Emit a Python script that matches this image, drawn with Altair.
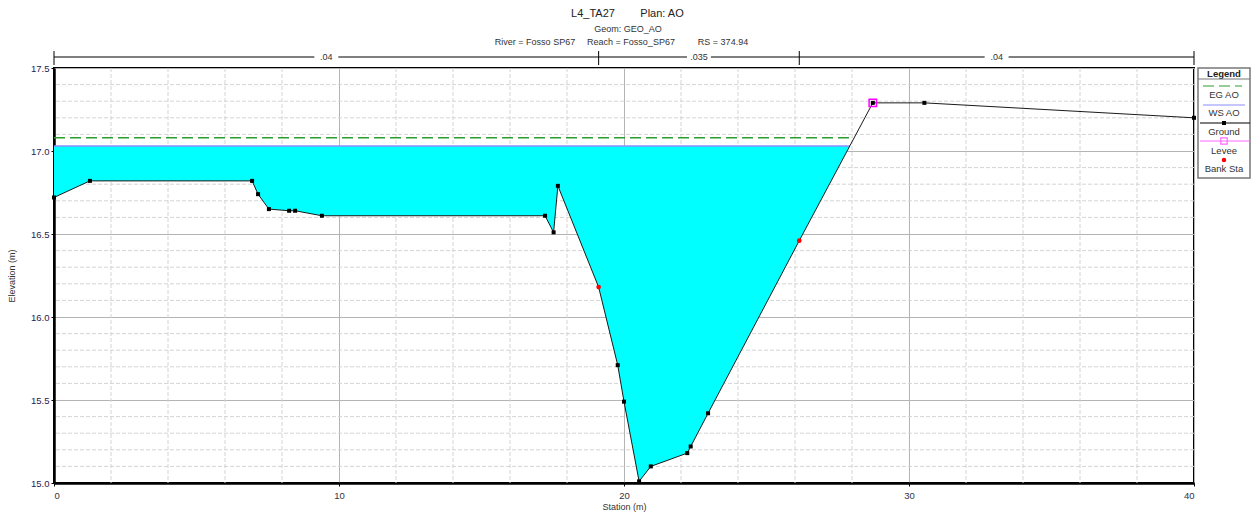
import altair as alt
import pandas as pd
import numpy as np

# ---------------- data ----------------
ground_x = [0.0, 1.26, 6.95, 7.16, 7.54, 8.25, 8.46, 9.40, 17.23, 17.53, 17.68, 19.11,
            19.78, 20.00, 20.53, 20.94, 22.22, 22.34, 22.95, 26.15, 28.73, 30.54, 40.0]
ground_y = [16.72, 16.82, 16.82, 16.74, 16.65, 16.64, 16.64, 16.61, 16.61, 16.51, 16.79, 16.18,
            15.71, 15.49, 15.01, 15.10, 15.18, 15.22, 15.42, 16.46, 17.29, 17.29, 17.20]
ws_elev = 17.03
eg_elev = 17.08
bank_x = [19.11, 26.15]
bank_y = [16.18, 16.46]
levee_x = [28.73]
levee_y = [17.29]
n_breaks = [0.0, 19.11, 26.15, 40.0]
n_values = [".04", ".035", ".04"]
x_ticks = [0, 10, 20, 30, 40]
y_ticks = [15.0, 15.5, 16.0, 16.5, 17.0, 17.5]
legend_items = ["EG AO", "WS AO", "Ground", "Levee", "Bank Sta"]

title1 = ["L4_TA27", "Plan: AO"]
title2 = "Geom: GEO_AO"
title3 = ["River = Fosso SP67", "Reach = Fosso_SP67", "RS = 374.94"]

FONT = "Liberation Sans"
W, H = 1140, 415

# ---------------- derived tables ----------------
def right_crossing(level):
    xc = ground_x[-1]
    for i in range(len(ground_x) - 1):
        if ground_y[i] < level <= ground_y[i + 1]:
            xc = ground_x[i] + (level - ground_y[i]) * (ground_x[i + 1] - ground_x[i]) / (ground_y[i + 1] - ground_y[i])
    return xc

ws_end = right_crossing(ws_elev)
eg_end = right_crossing(eg_elev)

ground = pd.DataFrame({"x": ground_x, "y": ground_y})
markers = ground[~ground["x"].isin(set(bank_x))]

water = ground[ground["x"] < ws_end].copy()
water = pd.concat([water, pd.DataFrame({"x": [ws_end], "y": [ws_elev]})], ignore_index=True)
water["ws"] = ws_elev

ws_line = pd.DataFrame({"x": [0.0], "x2": [ws_end], "y": [ws_elev]})
eg_line = pd.DataFrame({"x": [0.0], "x2": [eg_end], "y": [eg_elev]})
banks = pd.DataFrame({"x": bank_x, "y": bank_y})
levees = pd.DataFrame({"x": levee_x, "y": levee_y})

minor_vx = pd.DataFrame({"x": [float(v) for v in np.arange(2, 40, 2) if v % 10 != 0]})
minor_hy = pd.DataFrame({"y": [round(float(v), 2) for v in np.arange(15.1, 17.5, 0.1)
                               if abs(v * 2 - round(v * 2)) > 1e-6]})

gap = 0.42
seg_rows, lab_rows = [], []
for i, lab in enumerate(n_values):
    a, b = n_breaks[i], n_breaks[i + 1]
    m = (a + b) / 2
    seg_rows.append({"x": a, "x2": m - gap})
    seg_rows.append({"x": m + gap, "x2": b})
    lab_rows.append({"x": m, "t": lab})
nseg = pd.DataFrame(seg_rows)
nlab = pd.DataFrame(lab_rows)
nbrk = pd.DataFrame({"x": n_breaks})

XS = alt.Scale(domain=[0, 40], nice=False, zero=False)
YS = alt.Scale(domain=[15, 17.5], nice=False, zero=False)

x_axis = alt.Axis(values=x_ticks, title="Station (m)", grid=True, gridColor="#b4b4b4", gridWidth=1,
                  domainColor="black", domainWidth=2.5, tickColor="black", tickSize=3,
                  labelFont=FONT, labelFontSize=9.5, labelColor="#333340", labelPadding=4,
                  titleFont=FONT, titleFontSize=9, titleFontWeight="normal", titleColor="#333",
                  titleY=23, titleBaseline="middle")
y_axis = alt.Axis(values=y_ticks, format=".1f", title="Elevation (m)", grid=True, gridColor="#b4b4b4",
                  gridWidth=1, domainColor="black", domainWidth=2.5, tickColor="black", tickSize=3,
                  labelFont=FONT, labelFontSize=9.5, labelColor="#2a2050", labelPadding=2,
                  titleFont=FONT, titleFontSize=9, titleFontWeight="normal", titleColor="#333",
                  titleX=-38)


def X(f="x"):
    return alt.X(f, type="quantitative", scale=XS, axis=x_axis)


def Y(f="y"):
    return alt.Y(f, type="quantitative", scale=YS, axis=y_axis)


# ---------------- layers ----------------
grid_v = alt.Chart(minor_vx).mark_rule(color="#d4d4d4", strokeDash=[4, 2], strokeWidth=1).encode(x=X("x"))
grid_h = alt.Chart(minor_hy).mark_rule(color="#d4d4d4", strokeDash=[4, 2], strokeWidth=1).encode(y=Y("y"))

area = alt.Chart(water).mark_area(color="#00ffff", opacity=1, interpolate="linear").encode(
    x=X("x"), y=Y("ws"), y2="y")

ws = alt.Chart(ws_line).mark_rule(color="#8c8cff", strokeWidth=1.5).encode(x=X("x"), x2="x2", y=Y("y"))
eg = alt.Chart(eg_line).mark_rule(color="#2a9d2a", strokeWidth=1.5, strokeDash=[11, 5]).encode(
    x=X("x"), x2="x2", y=Y("y"))

gline = alt.Chart(ground).mark_line(color="#1a1a1a", strokeWidth=1).encode(x=X("x"), y=Y("y"))
gpts = alt.Chart(markers).mark_point(shape="square", filled=True, color="black", size=16, opacity=1).encode(
    x=X("x"), y=Y("y"))
lev = alt.Chart(levees).mark_point(shape="square", filled=False, color="#ff00ff", size=55, strokeWidth=1.5,
                                   opacity=1).encode(x=X("x"), y=Y("y"))
bnk = alt.Chart(banks).mark_point(shape="circle", filled=True, color="#ff0000", size=22, opacity=1).encode(
    x=X("x"), y=Y("y"))

# n-value bar above the plot
nbar = alt.Chart(nseg).mark_rule(color="black", strokeWidth=1).encode(x=X("x"), x2="x2", y=alt.value(-11))
nticks = alt.Chart(nbrk).mark_rule(color="black", strokeWidth=1).encode(
    x=X("x"), y=alt.value(-17), y2=alt.value(-3))
ntext = alt.Chart(nlab).mark_text(font=FONT, fontSize=9, color="#333", baseline="middle").encode(
    x=X("x"), y=alt.value(-11), text="t:N")

# titles
tdf1 = pd.DataFrame({"t": title1, "px": [539, 608]})
tdf3 = pd.DataFrame({"t": title3, "px": [481, 577, 669]})
t1 = alt.Chart(tdf1).mark_text(font=FONT, fontSize=11, color="#222", baseline="middle").encode(
    x=alt.X("px:Q", scale=None, axis=None), y=alt.value(-54), text="t:N")
t2 = alt.Chart(pd.DataFrame({"t": [title2]})).mark_text(font=FONT, fontSize=9, color="#333",
                                                        baseline="middle").encode(
    x=alt.value(574), y=alt.value(-39), text="t:N")
t3 = alt.Chart(tdf3).mark_text(font=FONT, fontSize=9, color="#333", baseline="middle").encode(
    x=alt.X("px:Q", scale=None, axis=None), y=alt.value(-26), text="t:N")

# legend (box at the right of the plot)
LX0, LX1, LC = 1144, 1196, 1170
one = pd.DataFrame({"a": [0]})
lbox = alt.Chart(one).mark_rect(fill="white", stroke="#777", strokeWidth=1.5).encode(
    x=alt.value(LX0), x2=alt.value(LX1), y=alt.value(0), y2=alt.value(110))
lhead = alt.Chart(pd.DataFrame({"t": ["Legend"]})).mark_text(font=FONT, fontSize=9.5, fontWeight="bold",
                                                             color="#222", baseline="middle").encode(
    x=alt.value(LC), y=alt.value(6), text="t:N")
ldiv = alt.Chart(one).mark_rule(color="#777", strokeWidth=1).encode(
    x=alt.value(LX0), x2=alt.value(LX1), y=alt.value(11))
leg_lab_y = [27, 45, 64, 83, 101]
llabels = alt.Chart(pd.DataFrame({"t": legend_items, "py": leg_lab_y})).mark_text(
    font=FONT, fontSize=9.5, color="#333", baseline="middle").encode(
    x=alt.value(LC), y=alt.Y("py:Q", scale=None, axis=None), text="t:N")
leg_eg = alt.Chart(one).mark_rule(color="#2a9d2a", strokeWidth=1.2, strokeDash=[11, 5]).encode(
    x=alt.value(LX0 + 5), x2=alt.value(LX1 - 8), y=alt.value(18))
leg_ws = alt.Chart(one).mark_rule(color="#8c8cff", strokeWidth=1.2).encode(
    x=alt.value(LX0 + 5), x2=alt.value(LX1 - 5), y=alt.value(37))
leg_gr = alt.Chart(one).mark_rule(color="black", strokeWidth=1.2).encode(
    x=alt.value(LX0 + 2), x2=alt.value(LX1), y=alt.value(55))
leg_grp = alt.Chart(one).mark_point(shape="square", filled=True, color="black", size=16,
                                    opacity=1).encode(x=alt.value(LC), y=alt.value(55))
leg_lv = alt.Chart(one).mark_rule(color="#ff66ff", strokeWidth=1.2).encode(
    x=alt.value(LX0 + 2), x2=alt.value(LX1), y=alt.value(73))
leg_lvp = alt.Chart(one).mark_point(shape="square", filled=False, color="#ff66ff", size=40,
                                    strokeWidth=1.2, opacity=1).encode(x=alt.value(LC), y=alt.value(73))
leg_bk = alt.Chart(one).mark_point(shape="circle", filled=True, color="#ff0000", size=20,
                                   opacity=1).encode(x=alt.value(LC), y=alt.value(92))

chart = alt.layer(
    grid_v, grid_h, area, ws, eg, gline, gpts, lev, bnk,
    nbar, nticks, ntext, t1, t2, t3,
    lbox, lhead, ldiv, llabels, leg_eg, leg_ws, leg_gr, leg_grp, leg_lv, leg_lvp, leg_bk
).properties(
    width=W, height=H,
    background="white",
    autosize=alt.AutoSizeParams(type="none"),
    padding={"left": 46, "top": 60, "right": 57, "bottom": 31},
).configure_view(
    stroke="black", strokeWidth=2
)

chart.save("out.html", embed_options={"renderer": "svg", "actions": False})
